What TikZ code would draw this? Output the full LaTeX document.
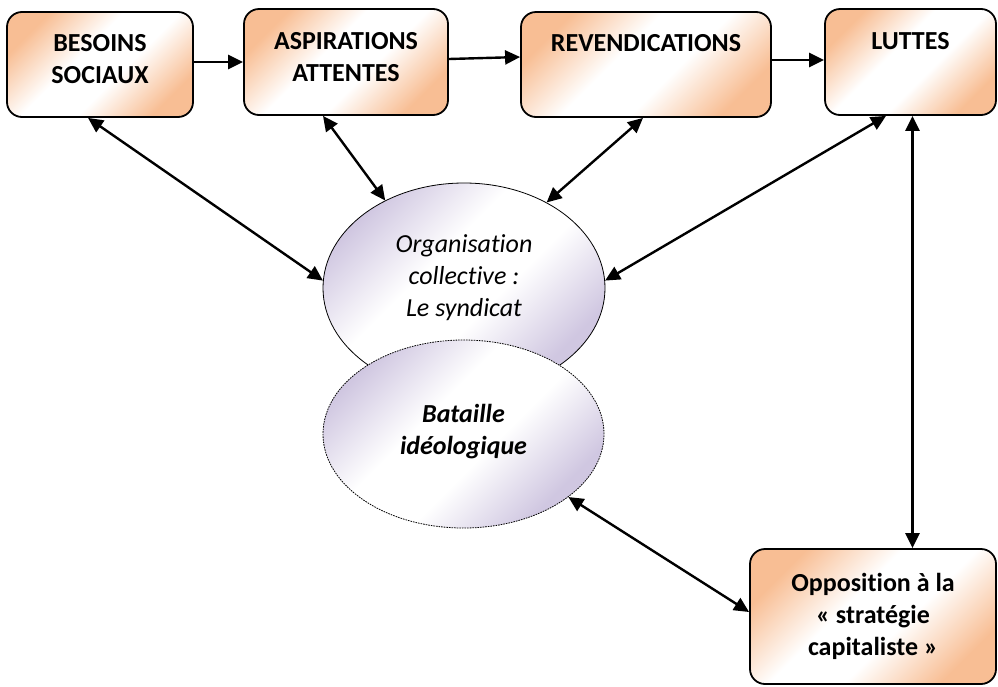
\documentclass[tikz,border=0pt]{standalone}
\usepackage{fontspec}
\setmainfont{Carlito}[Ligatures={NoCommon}]
\usetikzlibrary{arrows.meta,shapes.geometric,calc}

\definecolor{peachc}{RGB}{248,190,148}
\definecolor{lilac}{RGB}{208,199,225}

% diagonal gradients: colour at two opposite corners, white across the middle
\pgfdeclareverticalshading{peachshade}{100bp}{color(0bp)=(peachc); color(25bp)=(peachc); color(43bp)=(white); color(57bp)=(white); color(75bp)=(peachc); color(100bp)=(peachc)}
\pgfdeclareverticalshading{lilacshade}{100bp}{color(0bp)=(lilac); color(27bp)=(lilac); color(44bp)=(white); color(58bp)=(white); color(75bp)=(lilac); color(100bp)=(lilac)}

\newcommand{\boxlines}[1]{\begin{tabular}[t]{@{}c@{}}#1\end{tabular}}

\tikzset{
  stage/.style={draw=black, line width=1.8pt, rounded corners=15pt,
    shading=peachshade, shading angle=45, inner sep=0pt},
  blob/.style={ellipse, draw=black, line width=0.8pt, inner sep=0pt,
    shading=lilacshade, shading angle=45},
  lbl/.style={inner sep=0pt, anchor=base, font=\fontsize{26}{32}\selectfont\bfseries},
  ilbl/.style={inner sep=0pt, anchor=base, font=\fontsize{26}{32}\selectfont\itshape},
  flow/.style={line width=2.4pt, -{Triangle[length=15pt,width=14pt]}},
  link/.style={line width=2.4pt, {Triangle[length=15pt,width=14pt]}-{Triangle[length=15pt,width=14pt]}}
}

\begin{document}
\begin{tikzpicture}[x=1pt,y=-1pt]
\useasboundingbox (0,0) rectangle (998,686);

% stages along the top row and the box at the bottom right
\node[stage, minimum width=186pt, minimum height=105pt] (b1) at (100,64.5) {};
\node[stage, minimum width=204pt, minimum height=106pt] (b2) at (346,62) {};
\node[stage, minimum width=250pt, minimum height=105pt] (b3) at (646,64.5) {};
\node[stage, minimum width=171pt, minimum height=106pt] (b4) at (910.5,62) {};
\node[stage, minimum width=246pt, minimum height=135pt] (b5) at (873,616.5) {};

\node[lbl] (t1) at ([yshift=-40pt]b1.north) {\boxlines{BESOINS\\SOCIAUX}};
\node[lbl] (t2) at ([yshift=-41pt]b2.north) {\boxlines{ASPIRATIONS\\ATTENTES}};
\node[lbl] (t3) at ([yshift=-40pt]b3.north) {REVENDICATIONS};
\node[lbl] (t4) at ([yshift=-41pt]b4.north) {LUTTES};
\node[lbl] (t5) at ([yshift=-43pt]b5.north) {\boxlines{Opposition à la\\« stratégie\\capitaliste »}};

% the two ellipses, the dashed one lying over the lower part of the other
\node[blob, minimum width=282pt, minimum height=210pt] (e1) at (464,288) {};
\node[ilbl] (te1) at ([yshift=36pt]e1.center) {\boxlines{Organisation\\collective :\\Le syndicat}};
\node[blob, dash pattern=on 1.6pt off 1pt, minimum width=281pt, minimum height=188pt] (e2) at (463.5,434) {};
\node[ilbl, font=\fontsize{26}{32}\selectfont\bfseries\itshape] (te2) at ([yshift=12pt]e2.center) {\boxlines{Bataille\\idéologique}};

% chain along the top
\draw[flow] (b1.east |- b2.west) -- (b2.west);
\draw[flow] ([yshift=3pt]b2.east) -- ([yshift=7.5pt]b3.west);
\draw[flow] ([yshift=4.5pt]b3.east) -- ([yshift=2pt]b4.west);

% links with the union
\draw[link] ([xshift=-12pt]b1.south) -- (e1.177);
\draw[link] ([xshift=-23pt]b2.south) -- (e1.132);
\draw[link] ([xshift=-3pt]b3.south) -- (e1.46);
\draw[link] ([xshift=-24.5pt]b4.south) -- (e1.3);

% struggles and opposition
\draw[link] ([xshift=2pt]b4.south) -- ([xshift=2pt]b4.south |- b5.north);
\draw[link] (e2.-31) -- ([yshift=4.5pt]b5.west);
\end{tikzpicture}
\end{document}
